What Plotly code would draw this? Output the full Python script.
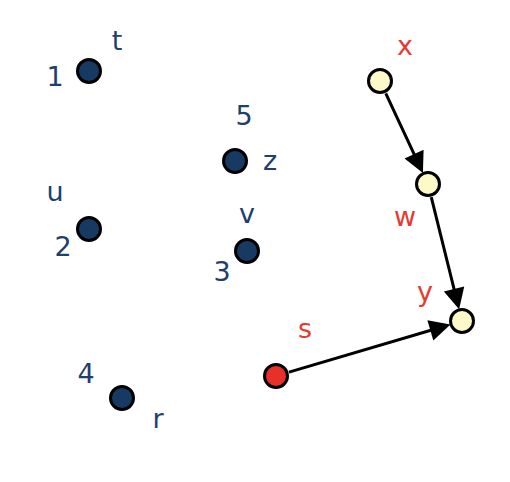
import plotly.graph_objects as go

node_x = [89, 235, 89, 247, 122, 380, 428, 462, 276]
node_y = [70, 160, 228, 250, 397, 80, 183, 320, 375]
node_fill = ["#173a63"]*5 + ["#fdf9c8"]*3 + ["#e8302a"]

lab_text = ["1", "t", "5", "z", "u", "2", "v", "3", "4", "r", "x", "w", "y", "s"]
lab_x = [55, 117, 244, 270, 55, 63, 247, 222, 86, 158, 405, 405, 425, 305]
lab_y = [78, 42, 117, 162, 193, 248, 215, 273, 375, 420, 47, 218, 293, 330]
lab_col = ["#1f3f6e"]*10 + ["#e53a2f"]*4

edges = [(5, 6), (6, 7), (8, 7)]

fig = go.Figure()
fig.add_trace(go.Scatter(x=node_x, y=node_y, mode="markers",
    marker=dict(size=23, color=node_fill, line=dict(color="black", width=3)),
    hoverinfo="skip"))
fig.add_trace(go.Scatter(x=lab_x, y=lab_y, mode="text", text=lab_text,
    textfont=dict(family="DejaVu Sans", size=27, color=lab_col), hoverinfo="skip"))
for a, b in edges:
    fig.add_annotation(x=node_x[b], y=node_y[b], ax=node_x[a], ay=node_y[a],
        xref="x", yref="y", axref="x", ayref="y", text="", showarrow=True,
        arrowhead=2, arrowsize=1.4, arrowwidth=3, arrowcolor="black",
        standoff=12, startstandoff=12)
fig.update_layout(width=510, height=482, margin=dict(l=0, r=0, t=0, b=0),
    plot_bgcolor="white", paper_bgcolor="white", showlegend=False)
fig.update_xaxes(range=[8, 518], visible=False)
fig.update_yaxes(range=[489, 7], visible=False)
fig.write_html("out.html")
